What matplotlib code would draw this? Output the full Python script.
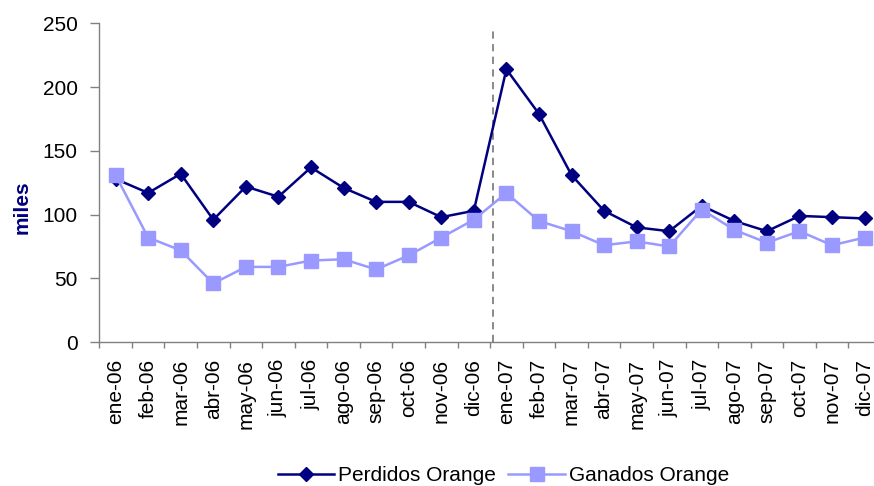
import matplotlib
matplotlib.use('Agg')
import matplotlib.pyplot as plt
import numpy as np

plt.rcParams['font.family'] = ['Liberation Sans', 'DejaVu Sans']
plt.rcParams['font.size'] = 15

meses = ['ene-06', 'feb-06', 'mar-06', 'abr-06', 'may-06', 'jun-06',
         'jul-06', 'ago-06', 'sep-06', 'oct-06', 'nov-06', 'dic-06',
         'ene-07', 'feb-07', 'mar-07', 'abr-07', 'may-07', 'jun-07',
         'jul-07', 'ago-07', 'sep-07', 'oct-07', 'nov-07', 'dic-07']
perdidos = [128, 117, 132, 96, 122, 114, 137, 121, 110, 110, 98, 103,
            214, 179, 131, 103, 90, 87, 107, 95, 87, 99, 98, 97]
ganados = [131, 82, 72, 46, 59, 59, 64, 65, 57, 68, 82, 96,
           117, 95, 87, 76, 79, 75, 104, 88, 78, 87, 76, 82]

fig = plt.figure(figsize=(8.74, 4.86), dpi=100)
ax = fig.add_axes([0.1136, 0.296, 0.8943, 0.656])

x = np.arange(len(meses))
ax.axvline(11.6, ymin=0, ymax=0.99, color='#808080', linestyle=(0, (4, 3)), linewidth=1.3)
ax.plot(x, perdidos, color='#000080', linewidth=1.8, marker='D', markersize=7.5,
        label='Perdidos Orange')
ax.plot(x, ganados, color='#9999FF', linewidth=1.8, marker='s', markersize=10.5,
        label='Ganados Orange')

ax.set_xlim(-0.5, len(meses) - 0.5)
ax.set_ylim(0, 250)
ax.set_yticks([0, 50, 100, 150, 200, 250])

# ticks on the category edges, labels in the middle
ax.set_xticks(np.arange(-0.5, len(meses), 1.0))
ax.set_xticklabels([])
ax.set_xticks(x, minor=True)
ax.set_xticklabels(meses, minor=True, rotation=90, va='top', ha='center')
ax.tick_params(axis='x', which='minor', length=0, pad=12)
ax.tick_params(axis='x', which='major', length=4, color='#808080', width=1)
ax.tick_params(axis='y', length=6.5, color='#808080', width=1, pad=9)

for s in ['top', 'right']:
    ax.spines[s].set_visible(False)
for s in ['left', 'bottom']:
    ax.spines[s].set_color('#808080')
    ax.spines[s].set_linewidth(1)

fig.text(0.025, 0.574, 'miles', rotation=90, fontweight='bold', color='#000080',
         ha='center', va='center', fontsize=15)

fig.legend(loc='center', bbox_to_anchor=(0.576, 0.022), ncol=2, frameon=False,
           handlelength=2.7, columnspacing=0.6, handletextpad=0.2, fontsize=15)

fig.savefig('out.png', dpi=100)
